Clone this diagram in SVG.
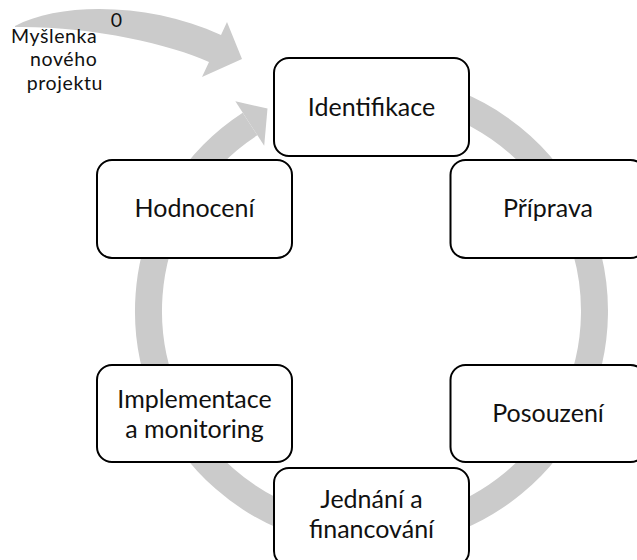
<svg xmlns="http://www.w3.org/2000/svg" width="637" height="560" viewBox="0 0 637 560">
  <style>
    .box { fill: #ffffff; stroke: #000000; stroke-width: 2; }
    .lbl { font-family: Lato, "Open Sans", sans-serif; font-size: 25px; fill: #111111; text-anchor: middle; }
    .small { font-family: Lato, "Open Sans", sans-serif; font-size: 19.5px; fill: #111111; }
    .band { fill: #cbcbcb; stroke: none; }
    .ring { fill: none; stroke: #cbcbcb; stroke-width: 27; stroke-linecap: butt; }
  </style>
  <rect width="637" height="560" fill="#ffffff"/>
  <g id="connectors">
    <path id="cycle-ring" class="ring" d="M 410.2 91.4 A 223 223 0 1 1 250.05 123.98"/>
    <polygon id="cycle-head" class="band" points="235.35,101.33 267.5,108.5 264.21,145.78"/>
    <path id="start-arrow" class="band" d="M 15 26 C 60 2 150 2 221 35 L 227 22 L 242 59 L 202 77 L 209 62 C 170 44 90 26 15 27 Z"/>
  </g>
  <g id="start-label">
    <text class="small" x="116.5" y="26.5" text-anchor="middle" font-size="20.5">0</text>
    <text class="small" text-anchor="end" letter-spacing="0.6">
      <tspan x="103" y="42.5">Myšlenka</tspan>
      <tspan x="103" y="66">nového</tspan>
      <tspan x="103" y="89.5">projektu</tspan>
    </text>
  </g>
  <g id="node-identifikace">
    <rect class="box" x="274" y="58" width="195" height="98" rx="15" ry="15"/>
    <text class="lbl" x="371.5" y="115.5">Identifikace</text>
  </g>
  <g id="node-priprava">
    <rect class="box" x="450.5" y="160" width="195" height="98" rx="15" ry="15"/>
    <text class="lbl" x="548" y="217">Příprava</text>
  </g>
  <g id="node-posouzeni">
    <rect class="box" x="450.5" y="365" width="195" height="97" rx="15" ry="15"/>
    <text class="lbl" x="548" y="422">Posouzení</text>
  </g>
  <g id="node-jednani">
    <rect class="box" x="274" y="468" width="195" height="98" rx="15" ry="15"/>
    <text class="lbl"><tspan x="371.5" y="507.5">Jednání a</tspan><tspan x="371.5" y="537.5">financování</tspan></text>
  </g>
  <g id="node-implementace">
    <rect class="box" x="97" y="365" width="195" height="97" rx="15" ry="15"/>
    <text class="lbl"><tspan x="194.5" y="407.5">Implementace</tspan><tspan x="194.5" y="437.5">a monitoring</tspan></text>
  </g>
  <g id="node-hodnoceni">
    <rect class="box" x="97" y="160" width="195" height="98" rx="15" ry="15"/>
    <text class="lbl" x="194.5" y="217">Hodnocení</text>
  </g>
</svg>
